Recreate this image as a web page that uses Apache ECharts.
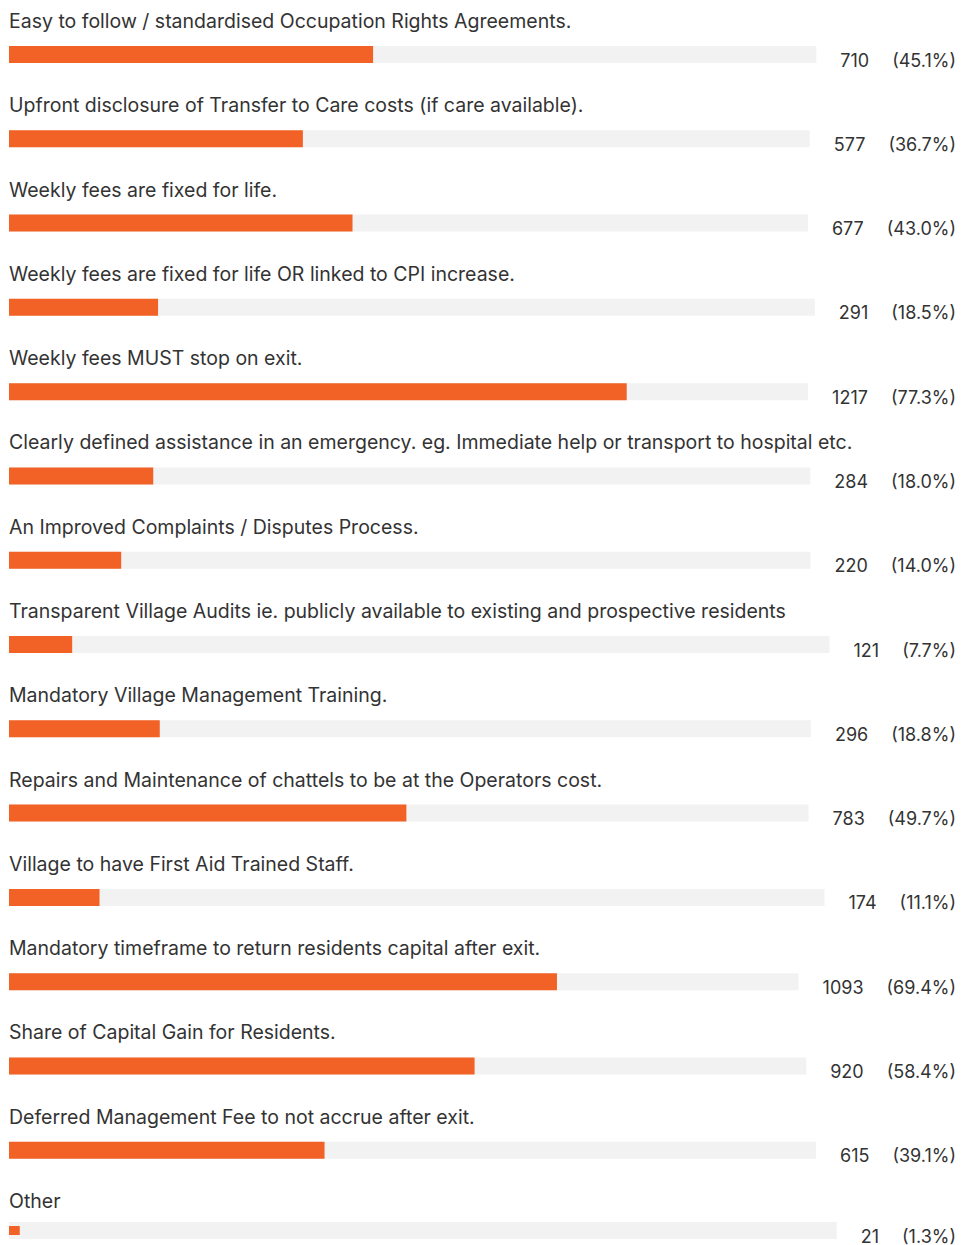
<!DOCTYPE html>
<html><head><meta charset="utf-8">
<script src="https://cdn.jsdelivr.net/npm/echarts@6/dist/echarts.min.js"></script>
<style>html,body{margin:0;padding:0;background:#fff}#c{width:963px;height:1245px}</style>
</head><body><div id="c"></div>
<script>
const categories = [
  "Easy to follow / standardised Occupation Rights Agreements.",
  "Upfront disclosure of Transfer to Care costs (if care available).",
  "Weekly fees are fixed for life.",
  "Weekly fees are fixed for life OR linked to CPI increase.",
  "Weekly fees MUST stop on exit.",
  "Clearly defined assistance in an emergency. eg. Immediate help or transport to hospital etc.",
  "An Improved Complaints / Disputes Process.",
  "Transparent Village Audits ie. publicly available to existing and prospective residents",
  "Mandatory Village Management Training.",
  "Repairs and Maintenance of chattels to be at the Operators cost.",
  "Village to have First Aid Trained Staff.",
  "Mandatory timeframe to return residents capital after exit.",
  "Share of Capital Gain for Residents.",
  "Deferred Management Fee to not accrue after exit.",
  "Other"
];
const counts = [710, 577, 677, 291, 1217, 284, 220, 121, 296, 783, 174, 1093, 920, 615, 21];
const percents = [45.1, 36.7, 43.0, 18.5, 77.3, 18.0, 14.0, 7.7, 18.8, 49.7, 11.1, 69.4, 58.4, 39.1, 1.3];

const FONT = 'Inter';
const NUM_SIZE = 18;
const cv = document.createElement('canvas').getContext('2d');
cv.font = NUM_SIZE + 'px ' + FONT;

const chart = echarts.init(document.getElementById('c'), null, {renderer: 'svg'});
const grids = [], xAxes = [], yAxes = [], series = [];
categories.forEach((name, i) => {
  const cText = String(counts[i]);
  const pText = '(' + percents[i].toFixed(1) + '%)';
  const cw = cv.measureText(cText).width;
  const pw = cv.measureText(pText).width;
  const right = 7 + pw + 23 + cw + 24;
  grids.push({left: 9, right: right, top: 46 + i * 84.29, height: 17});
  xAxes.push({type: 'value', gridIndex: i, min: 0, max: 100, show: false});
  yAxes.push({type: 'category', gridIndex: i, data: [name], position: 'right',
    axisLine: {show: false}, axisTick: {show: false},
    axisLabel: {margin: 24, padding: [11, 0, 0, 0], fontFamily: FONT, fontSize: NUM_SIZE, color: '#333',
      formatter: () => '{c|' + cText + '}{g|}{p|' + pText + '}',
      rich: {c: {fontFamily: FONT, fontSize: NUM_SIZE, color: '#333'}, g: {width: 23}, p: {fontFamily: FONT, fontSize: NUM_SIZE, color: '#333'}}}});
  series.push({type: 'bar', xAxisIndex: i, yAxisIndex: i, data: [percents[i]], barWidth: 17,
    itemStyle: {color: '#F26125'}, showBackground: true, backgroundStyle: {color: '#F2F2F2'},
    silent: true, animation: false,
    label: {show: true, position: [0, -25], verticalAlign: 'middle', align: 'left',
      formatter: name, fontFamily: FONT, fontSize: 19.5, color: '#333'}});
});
chart.setOption({animation: false, grid: grids, xAxis: xAxes, yAxis: yAxes, series: series});
</script></body></html>
